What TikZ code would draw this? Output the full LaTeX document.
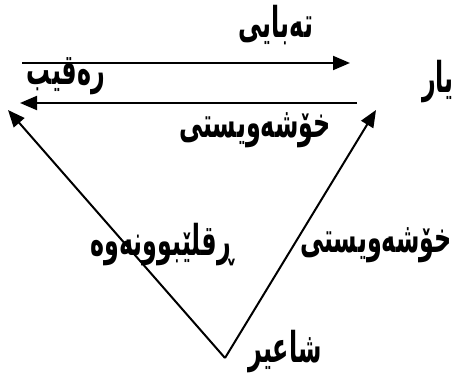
\documentclass[tikz,border=0pt]{standalone}
\usepackage{fontspec}
\usetikzlibrary{arrows.meta}
\TeXXeTstate=1
\newfontfamily\arabicfont[Script=Arabic]{DejaVu Sans}
\tikzset{
  conn/.style={line width=2pt,-{Triangle[length=17pt,width=14pt]}},
  lbl/.style={inner sep=0pt,xscale=0.7,yscale=1.25,font=\arabicfont\bfseries\fontsize{34}{38}\selectfont}
}
\begin{document}
\begin{tikzpicture}[x=1pt,y=-1pt]
\useasboundingbox (0,0) rectangle (467,374);
\coordinate (t1) at (22,63);
\coordinate (t2) at (350,63);
\coordinate (b1) at (357,103);
\coordinate (b2) at (20,103);
\coordinate (v) at (225,358);
\coordinate (lt) at (8,110);
\coordinate (rt) at (376,110);
\draw[conn] (t1) -- (t2);
\draw[conn] (b1) -- (b2);
\draw[conn] (v) -- (lt);
\draw[conn] (v) -- (rt);
\node[lbl] (harmony) at (276,25) {\beginR تەبایی\endR};
\node[lbl] (rival) at (66,76) {\beginR رەقیب\endR};
\node[lbl] (beloved) at (438,82) {\beginR یار\endR};
\node[lbl] (love1) at (255,130) {\beginR خۆشەویستی\endR};
\node[lbl] (hate) at (162,245) {\beginR ڕقلێبوونەوە\endR};
\node[lbl] (love2) at (376,245) {\beginR خۆشەویستی\endR};
\node[lbl] (poet) at (285,352) {\beginR شاعیر\endR};
\end{tikzpicture}
\end{document}
